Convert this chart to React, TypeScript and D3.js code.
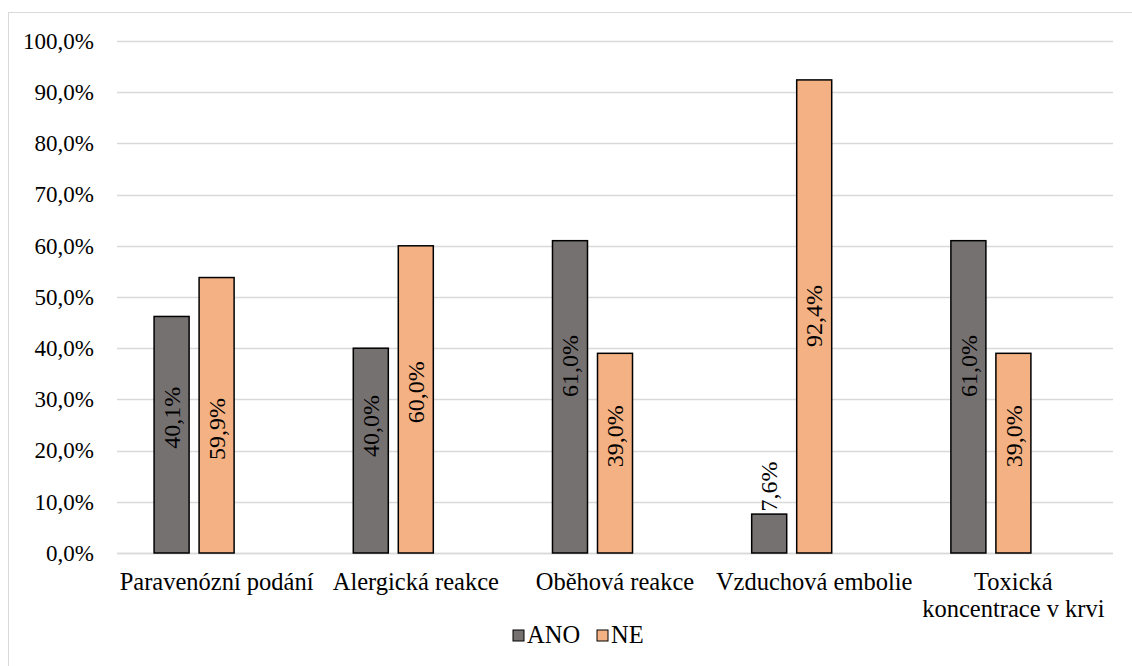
import React from "react";
import * as d3 from "d3";

const categories = [
  "Paravenózní podání",
  "Alergická reakce",
  "Oběhová reakce",
  "Vzduchová embolie",
  "Toxická\nkoncentrace v krvi",
];
const seriesNames = ["ANO", "NE"];
// bar heights as drawn (fraction)
const anoValues = [0.462, 0.4, 0.61, 0.076, 0.61];
const neValues = [0.538, 0.6, 0.39, 0.924, 0.39];
// data labels as printed
const anoLabels = ["40,1%", "40,0%", "61,0%", "7,6%", "61,0%"];
const neLabels = ["59,9%", "60,0%", "39,0%", "92,4%", "39,0%"];
// where each label is centred (value units)
const anoLabelAt = [0.264, 0.248, 0.365, 0.13, 0.365];
const neLabelAt = [0.242, 0.314, 0.228, 0.463, 0.228];
const yTicks = [0, 0.1, 0.2, 0.3, 0.4, 0.5, 0.6, 0.7, 0.8, 0.9, 1.0];

const W = 1132;
const H = 666;
const FONT = "Liberation Serif";
const COLORS: Record<string, string> = { ANO: "#767171", NE: "#F4B183" };

export default function App() {
  const y = d3.scaleLinear().domain([0, 1]).range([553, 41]);
  const x0 = d3.scaleBand<string>().domain(categories).range([117, 1113]).padding(0);
  const x1 = d3
    .scaleBand<string>()
    .domain([...seriesNames, "_"])
    .range([0, x0.bandwidth()])
    .paddingInner(0.222)
    .paddingOuter(0.824);
  const fmt = (v: number) => d3.format(".1f")(v * 100).replace(".", ",") + "%";

  const series = [
    { name: "ANO", values: anoValues, labels: anoLabels, at: anoLabelAt },
    { name: "NE", values: neValues, labels: neLabels, at: neLabelAt },
  ];

  return (
    <svg width={W} height={H} style={{ position: "fixed", left: 0, top: 0, background: "#fff" }}>
      <rect x={8.5} y={12.5} width={1140} height={680} fill="#fff" stroke="#d9d9d9" strokeWidth={1} />
      {yTicks.map((t) => (
        <g key={t}>
          <line x1={117} x2={1113} y1={Math.round(y(t)) + 0.5} y2={Math.round(y(t)) + 0.5} stroke="#d9d9d9" strokeWidth={1.5} />
          <text x={94} y={y(t)} dy="0.34em" textAnchor="end" style={{ fontFamily: FONT, fontSize: 23 }} fill="#000">
            {fmt(t)}
          </text>
        </g>
      ))}
      <line x1={117} x2={1113} y1={553.5} y2={553.5} stroke="#d9d9d9" strokeWidth={1.5} />
      {categories.map((c, i) => (
        <g key={c}>
          {series.map((s) => {
            const bx = (x0(c) as number) + (x1(s.name) as number);
            const bw = x1.bandwidth();
            const top = y(s.values[i]);
            const cx = bx + bw / 2;
            const ly = y(s.at[i]);
            return (
              <g key={s.name}>
                <rect
                  x={bx}
                  y={top}
                  width={bw}
                  height={y(0) - top}
                  fill={COLORS[s.name]}
                  stroke="#000"
                  strokeWidth={1.5}
                />
                <text
                  transform={`translate(${cx},${ly}) rotate(-90)`}
                  textAnchor="middle"
                  dy="0.34em"
                  style={{ fontFamily: FONT, fontSize: 24 }}
                  fill="#000"
                >
                  {s.labels[i]}
                </text>
              </g>
            );
          })}
          {c.split("\n").map((line, li) => (
            <text
              key={li}
              x={(x0(c) as number) + x0.bandwidth() / 2}
              y={590 + li * 27}
              textAnchor="middle"
              style={{ fontFamily: FONT, fontSize: 24.5 }}
              fill="#000"
            >
              {line}
            </text>
          ))}
        </g>
      ))}
      {[
        { name: "ANO", x: 513 },
        { name: "NE", x: 597 },
      ].map((l) => (
        <g key={l.name}>
          <rect x={l.x} y={630} width={11} height={11} fill={COLORS[l.name]} stroke="#000" strokeWidth={1} />
          <text x={l.x + 14} y={643} style={{ fontFamily: FONT, fontSize: 24.5 }} fill="#000">
            {l.name}
          </text>
        </g>
      ))}
    </svg>
  );
}
